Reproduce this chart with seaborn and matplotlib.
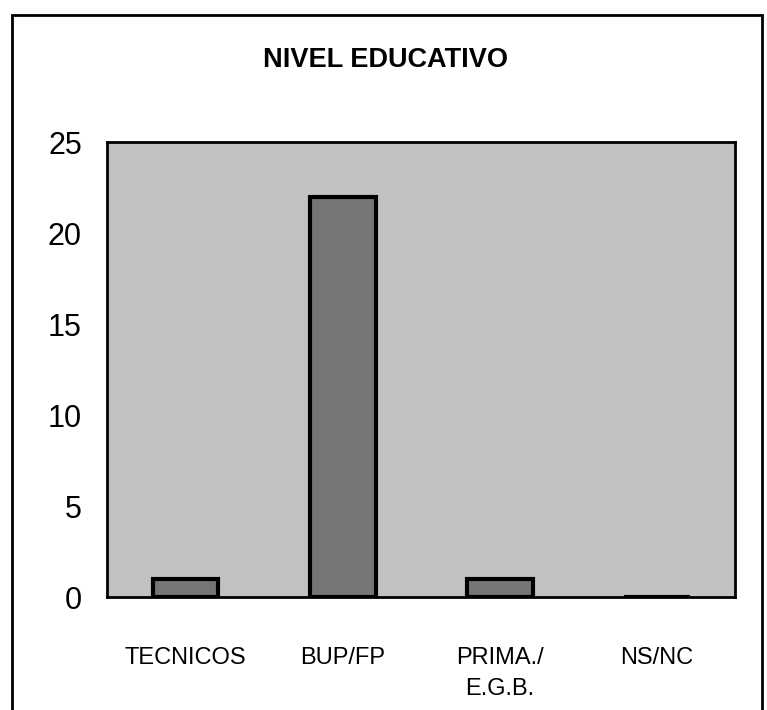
import matplotlib
matplotlib.use("Agg")
import matplotlib.pyplot as plt
import seaborn as sns
from matplotlib.patches import Rectangle
from matplotlib.ticker import FixedLocator

categories = ["TECNICOS", "BUP/FP", "PRIMA./\nE.G.B.", "NS/NC"]
values = [1, 22, 1, 0]
yticks = [0, 5, 10, 15, 20, 25]
title = "NIVEL EDUCATIVO"

sns.set_theme(style="white")
plt.rcParams["font.family"] = ["Liberation Sans", "DejaVu Sans"]
plt.rcParams["text.color"] = "black"
plt.rcParams["xtick.color"] = "black"
plt.rcParams["ytick.color"] = "black"
plt.rcParams["xtick.labelcolor"] = "black"
plt.rcParams["ytick.labelcolor"] = "black"

fig = plt.figure(figsize=(7.67, 7.10), dpi=100)
fig.patch.set_facecolor("white")
ax = fig.add_axes([0.1395, 0.159, 0.819, 0.641])

sns.barplot(x=categories, y=values, color="#767676", edgecolor="black",
            linewidth=3, width=0.42, saturation=1, ax=ax)

ax.set_facecolor("#c2c2c2")
ax.set_ylim(0, 25)
ax.set_xlim(-0.5, len(categories) - 0.5)
ax.set_yticks(yticks)
ax.set_yticklabels([str(t) for t in yticks], fontsize=22)
ax.tick_params(axis="y", direction="out", length=10, width=1.5, color="black", pad=8)
ax.tick_params(axis="x", which="major", length=0, pad=36, labelsize=17)
for lab in ax.get_xticklabels():
    lab.set_linespacing(1.55)
ax.xaxis.set_minor_locator(FixedLocator([i - 0.5 for i in range(len(categories) + 1)]))
ax.tick_params(axis="x", which="minor", direction="out", length=8, width=1.5, color="black")
ax.set_xlabel("")
ax.set_ylabel("")
for s in ax.spines.values():
    s.set_visible(True)
    s.set_color("black")
    s.set_linewidth(2)

fig.text(0.503, 0.915, title, ha="center", va="center", fontsize=19.5,
         fontweight="bold", color="black")

fig.patches.append(Rectangle((0.0156, -0.05), 0.978, 1.029, transform=fig.transFigure,
                             fill=False, edgecolor="black", linewidth=2))

fig.savefig("out.png", dpi=100)
